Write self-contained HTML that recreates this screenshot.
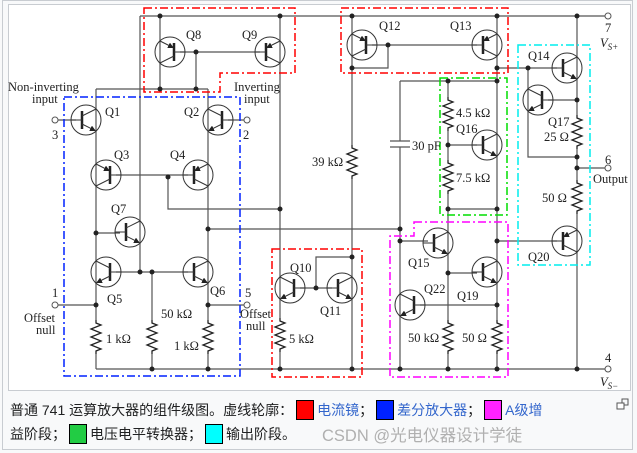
<!DOCTYPE html>
<html><head><meta charset="utf-8"><style>
html,body{margin:0;padding:0;background:#f8f9fa;width:637px;height:453px;overflow:hidden}
.cap{position:absolute;left:10px;top:398px;width:600px;font:14px "Liberation Sans","Noto Sans CJK SC",sans-serif;color:#202122;line-height:24px}
.sw{display:inline-block;width:16px;height:18px;border:1px solid #000;vertical-align:-5px;margin:0 3px}
.lk{color:#3366cc}
</style></head><body>
<div style="position:absolute;left:2px;top:0;width:631px;height:450px;border:1px solid #c8ccd1;box-sizing:border-box"></div>
<svg style="position:absolute;left:0;top:0" width="637" height="453" xmlns="http://www.w3.org/2000/svg">
<defs>
<marker id="ar" markerWidth="6" markerHeight="6" refX="5" refY="3" orient="auto" markerUnits="userSpaceOnUse"><path d="M0,0 L6,3 L0,6z" fill="#222"/></marker>
<g id="n"><circle r="15" fill="none" stroke="#333" stroke-width="1"/><line x1="-4" y1="-9" x2="-4" y2="9" stroke="#222" stroke-width="2.5"/><line x1="-15" y1="0" x2="-4" y2="0" stroke="#333"/><line x1="-4" y1="-4" x2="10" y2="-11" stroke="#333"/><line x1="-4" y1="4" x2="9" y2="10.5" stroke="#333" marker-end="url(#ar)"/></g>
<g id="p"><circle r="15" fill="none" stroke="#333" stroke-width="1"/><line x1="-4" y1="-9" x2="-4" y2="9" stroke="#222" stroke-width="2.5"/><line x1="-15" y1="0" x2="-4" y2="0" stroke="#333"/><line x1="-4" y1="-4" x2="10" y2="-11" stroke="#333"/><line x1="10" y1="11" x2="-3" y2="4.5" stroke="#333" marker-end="url(#ar)"/></g>
<path id="r" d="M0,0 L0,3 L5,5 L-5,9 L5,13 L-5,17 L5,21 L-5,25 L5,29 L0,31 L0,34" fill="none" stroke="#222" stroke-width="1.3"/>
</defs>
<rect x="8.5" y="4.5" width="622" height="386" fill="#fff" stroke="#c8ccd1"/>
<g stroke="#555" stroke-width="1.2" fill="none">
<path d="M140,16H605 M140,16V272 M160,16V89 M280,16V318 M280,352V369 M196,52V89 M180,52H260 M96,89H208"/>
<path d="M96,89V320 M96,354V369 M208,89V320 M208,354V369 M116,175H188 M168,175V209H280 M96,233H120 M116,272H188 M152,272V320 M152,354V369"/>
<path d="M58,305H96 M208,305H244 M58,120H76 M228,120H244 M208,229H400 M96,369H605"/>
<path d="M352,16V145 M352,179V369 M352,68H388V45 M372,45H477 M316,288V257H352 M300,288H332 M497,16V320 M497,354V369 M497,68H557"/>
<path d="M400,81H497 M400,81V141 M400,147V369 M390,141H410 M390,147H410 M448,81V97 M448,131V160 M448,194V320 M448,354V369"/>
<path d="M448,145H477 M400,241H428 M448,273H477 M420,305H497 M448,209H497 M497,241H557 M528,68V157H577 M548,100H577 M577,16V115 M577,149V180 M577,214V369 M577,168H605"/>
</g>
<g fill="#222">
<circle cx="160" cy="16" r="2.5"/><circle cx="280" cy="16" r="2.5"/><circle cx="160" cy="89" r="2.5"/><circle cx="196" cy="89" r="2.5"/><circle cx="196" cy="52" r="2.5"/>
<circle cx="168" cy="177" r="2.5"/><circle cx="280" cy="209" r="2.5"/><circle cx="96" cy="233" r="2.5"/><circle cx="140" cy="272" r="2.5"/><circle cx="152" cy="272" r="2.5"/>
<circle cx="96" cy="305" r="2.5"/><circle cx="208" cy="305" r="2.5"/><circle cx="208" cy="229" r="2.5"/><circle cx="152" cy="369" r="2.5"/><circle cx="208" cy="369" r="2.5"/><circle cx="280" cy="369" r="2.5"/>
<circle cx="352" cy="16" r="2.5"/><circle cx="497" cy="16" r="2.5"/><circle cx="577" cy="16" r="2.5"/><circle cx="352" cy="68" r="2.5"/><circle cx="388" cy="45" r="2.5"/><circle cx="497" cy="68" r="2.5"/><circle cx="528" cy="68" r="2.5"/>
<circle cx="316" cy="288" r="2.5"/><circle cx="352" cy="257" r="2.5"/><circle cx="352" cy="369" r="2.5"/>
<circle cx="448" cy="81" r="2.5"/><circle cx="497" cy="81" r="2.5"/><circle cx="448" cy="145" r="2.5"/><circle cx="448" cy="209" r="2.5"/><circle cx="497" cy="209" r="2.5"/>
<circle cx="400" cy="229" r="2.5"/><circle cx="400" cy="241" r="2.5"/><circle cx="497" cy="241" r="2.5"/><circle cx="448" cy="273" r="2.5"/><circle cx="497" cy="305" r="2.5"/>
<circle cx="400" cy="369" r="2.5"/><circle cx="448" cy="369" r="2.5"/><circle cx="497" cy="369" r="2.5"/><circle cx="577" cy="369" r="2.5"/>
<circle cx="577" cy="100" r="2.5"/><circle cx="577" cy="157" r="2.5"/><circle cx="577" cy="168" r="2.5"/>
</g>
<g fill="#fff" stroke="#555"><circle cx="55" cy="120" r="3"/><circle cx="247" cy="120" r="3"/><circle cx="55" cy="305" r="3"/><circle cx="247" cy="305" r="3"/><circle cx="608" cy="16" r="3"/><circle cx="608" cy="168" r="3"/><circle cx="608" cy="369" r="3"/></g>
<use href="#n" transform="translate(86,120)"/>
<use href="#n" transform="translate(218,120) scale(-1,1)"/>
<use href="#p" transform="translate(106,175) scale(-1,-1)"/>
<use href="#p" transform="translate(198,175) scale(1,-1)"/>
<use href="#n" transform="translate(130,232)"/>
<use href="#n" transform="translate(106,272) scale(-1,1)"/>
<use href="#n" transform="translate(198,272)"/>
<use href="#p" transform="translate(170,52) scale(-1,-1)"/>
<use href="#p" transform="translate(270,52) scale(1,-1)"/>
<use href="#n" transform="translate(290,288) scale(-1,1)"/>
<use href="#n" transform="translate(342,288)"/>
<use href="#p" transform="translate(362,45) scale(-1,-1)"/>
<use href="#p" transform="translate(487,45) scale(1,-1)"/>
<use href="#n" transform="translate(487,145)"/>
<use href="#n" transform="translate(567,68)"/>
<use href="#n" transform="translate(538,100) scale(-1,1)"/>
<use href="#p" transform="translate(567,241) scale(1,-1)"/>
<use href="#n" transform="translate(438,243)"/>
<use href="#n" transform="translate(487,272)"/>
<use href="#n" transform="translate(410,305) scale(-1,1)"/>
<use href="#r" x="96" y="320"/><use href="#r" x="208" y="320"/><use href="#r" x="152" y="320"/><use href="#r" x="280" y="318"/>
<use href="#r" x="352" y="145"/><use href="#r" x="448" y="97"/><use href="#r" x="448" y="160"/><use href="#r" x="448" y="320"/><use href="#r" x="497" y="320"/>
<use href="#r" x="577" y="115"/><use href="#r" x="577" y="180"/>
<g fill="none" stroke-width="1.5" stroke-dasharray="8,3,2,3">
<path d="M144,8H295V73H220V92H144Z" stroke="#ff0000"/>
<path d="M341,8H508V73H341Z" stroke="#ff0000"/>
<path d="M272,249H362V377H272Z" stroke="#ff0000"/>
<path d="M64,97H240V376H64Z" stroke="#0022ff"/>
<path d="M440,78H507V215H440Z" stroke="#00dd00"/>
<path d="M414,222H508V377H390V236H414Z" stroke="#ff00ff"/>
<path d="M518,45H590V265H518Z" stroke="#00eeee"/>
</g>
<g font-family="Liberation Serif, serif" font-size="12.5" fill="#222">
<text x="8" y="91">Non-inverting</text><text x="32" y="103">input</text><text x="52" y="139">3</text>
<text x="234" y="91">Inverting</text><text x="244" y="103">input</text><text x="243" y="139">2</text>
<text x="105" y="116">Q1</text><text x="184" y="116">Q2</text><text x="114" y="159">Q3</text><text x="170" y="159">Q4</text>
<text x="111" y="213">Q7</text><text x="107" y="303">Q5</text><text x="210" y="295">Q6</text>
<text x="186" y="39">Q8</text><text x="242" y="39">Q9</text>
<text x="52" y="297">1</text><text x="24" y="322">Offset</text><text x="36" y="334">null</text>
<text x="245" y="297">5</text><text x="240" y="318">Offset</text><text x="246" y="330">null</text>
<text x="106" y="343">1 kΩ</text><text x="161" y="318">50 kΩ</text><text x="174" y="350">1 kΩ</text>
<text x="290" y="272">Q10</text><text x="320" y="315">Q11</text><text x="289" y="343">5 kΩ</text><text x="312" y="166">39 kΩ</text>
<text x="379" y="30">Q12</text><text x="450" y="30">Q13</text><text x="412" y="150">30 pF</text>
<text x="456" y="117">4.5 kΩ</text><text x="456" y="133">Q16</text><text x="456" y="182">7.5 kΩ</text>
<text x="528" y="60">Q14</text><text x="548" y="126">Q17</text><text x="544" y="141">25 Ω</text>
<text x="605" y="164">6</text><text x="593" y="183">Output</text><text x="542" y="202">50 Ω</text><text x="528" y="261">Q20</text>
<text x="605" y="32">7</text><text x="600" y="47" font-style="italic">V<tspan font-size="9" dy="3">S+</tspan></text>
<text x="408" y="267">Q15</text><text x="424" y="293">Q22</text><text x="457" y="300">Q19</text>
<text x="408" y="342">50 kΩ</text><text x="462" y="342">50 Ω</text>
<text x="605" y="362">4</text><text x="600" y="386" font-style="italic">V<tspan font-size="9" dy="3">S−</tspan></text>
</g>
<g fill="none" stroke="#555"><rect x="622" y="399" width="6" height="6"/><rect x="617" y="403" width="7" height="6" fill="#fff"/></g>
<text x="322" y="441" font-family="Liberation Sans,'Noto Sans CJK SC',sans-serif" font-size="16.5" fill="#b0b0b0">CSDN @光电仪器设计学徒</text>
</svg>
<div class="cap">普通 741 运算放大器的组件级图。虚线轮廓：<span class="sw" style="background:#ff0000"></span><span class="lk">电流镜</span>；<span class="sw" style="background:#0022ff"></span><span class="lk">差分放大器</span>；<span class="sw" style="background:#ff22ff"></span><span class="lk">A级增</span><br>益阶段；<span class="sw" style="background:#22cc44"></span>电压电平转换器；<span class="sw" style="background:#00ffff"></span>输出阶段。</div>
</body></html>
